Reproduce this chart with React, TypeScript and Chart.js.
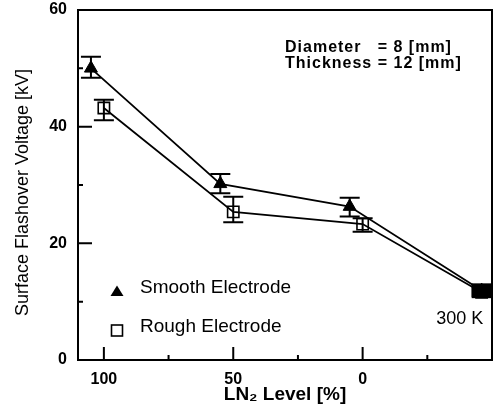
import React, { useEffect, useRef } from 'react';
import { Chart, registerables } from 'chart.js';

Chart.register(...registerables);

// ---- data ----
const smoothX = [105, 55, 5, -46];
const smoothY = [50.0, 30.2, 26.3, 11.9];
const smoothErrLow = [48.4, 28.6, 24.6, 10.8];
const smoothErrHigh = [52.0, 31.9, 27.8, 13.1];

const roughX = [100, 50, 0, -46];
const roughY = [43.2, 25.4, 23.3, 11.6];
const roughErrLow = [41.1, 23.6, 22.0, 10.6];
const roughErrHigh = [44.6, 28.0, 24.3, 13.1];

const solidBox = [false, false, false, true];

const xTicks = [100, 50, 0];
const xMinorTicks = [75, 25, -25];
const yTicks = [0, 20, 40, 60];
const yMinorTicks = [10, 30, 50];

const seriesNames = ['Smooth Electrode', 'Rough Electrode'];
const noteLines = ['Diameter', 'Thickness'];
const noteValues = ['= 8 [mm]', '= 12 [mm]'];
const tempLabel = '300 K';

const FONT = '"Liberation Sans", Arial, Helvetica, sans-serif';

const errLows = [smoothErrLow, roughErrLow];
const errHighs = [smoothErrHigh, roughErrHigh];

const customPlugin = {
  id: 'custom',
  afterDatasetsDraw(chart: any) {
    const ctx = chart.ctx;
    const ys = chart.scales.y;
    ctx.save();
    ctx.strokeStyle = '#000';
    ctx.fillStyle = '#000';
    ctx.lineWidth = 2;
    chart.data.datasets.forEach((ds: any, di: number) => {
      const meta = chart.getDatasetMeta(di);
      meta.data.forEach((pt: any, i: number) => {
        const x = pt.x;
        const yl = ys.getPixelForValue(errLows[di][i]);
        const yh = ys.getPixelForValue(errHighs[di][i]);
        const hw = 10;
        if (solidBox[i]) {
          ctx.fillRect(x - hw, yh, hw * 2, yl - yh);
          return;
        }
        ctx.beginPath();
        ctx.moveTo(x, yl);
        ctx.lineTo(x, yh);
        ctx.moveTo(x - hw, yl);
        ctx.lineTo(x + hw, yl);
        ctx.moveTo(x - hw, yh);
        ctx.lineTo(x + hw, yh);
        ctx.stroke();
      });
    });
    ctx.restore();
  },
  afterDraw(chart: any) {
    const ctx = chart.ctx;
    const { left, right, top, bottom } = chart.chartArea;
    const xs = chart.scales.x;
    const ys = chart.scales.y;
    ctx.save();
    ctx.strokeStyle = '#000';
    ctx.fillStyle = '#000';
    // frame
    ctx.lineWidth = 2;
    ctx.strokeRect(left, top, right - left, bottom - top);
    // ticks (inward)
    ctx.beginPath();
    xTicks.forEach((v) => {
      const px = xs.getPixelForValue(v);
      ctx.moveTo(px, bottom);
      ctx.lineTo(px, bottom - 13);
    });
    xMinorTicks.forEach((v) => {
      const px = xs.getPixelForValue(v);
      ctx.moveTo(px, bottom);
      ctx.lineTo(px, bottom - 5);
    });
    yTicks.forEach((v) => {
      const py = ys.getPixelForValue(v);
      ctx.moveTo(left, py);
      ctx.lineTo(left + 14, py);
    });
    yMinorTicks.forEach((v) => {
      const py = ys.getPixelForValue(v);
      ctx.moveTo(left, py);
      ctx.lineTo(left + 5, py);
    });
    ctx.stroke();

    // annotation
    ctx.font = `bold 16px ${FONT}`;
    (ctx as any).letterSpacing = '1px';
    ctx.textBaseline = 'middle';
    ctx.textAlign = 'left';
    const ax = left + 207;
    const w2 = ctx.measureText(noteLines[1] + ' ').width;
    ctx.fillText(noteLines[0], ax, top + 38);
    ctx.fillText(noteValues[0], ax + w2, top + 38);
    ctx.fillText(noteLines[1], ax, top + 54);
    ctx.fillText(noteValues[1], ax + w2, top + 54);
    (ctx as any).letterSpacing = '0px';

    // legend
    const lx = left + 39;
    const ly1 = top + 281;
    const ly2 = top + 320;
    ctx.beginPath();
    ctx.moveTo(lx, ly1 - 5.5);
    ctx.lineTo(lx + 6.5, ly1 + 5);
    ctx.lineTo(lx - 6.5, ly1 + 5);
    ctx.closePath();
    ctx.fill();
    ctx.lineWidth = 1.6;
    ctx.strokeRect(lx - 5.5, ly2 - 5, 11, 11);
    ctx.font = `19px ${FONT}`;
    ctx.fillText(seriesNames[0], left + 62, top + 278);
    ctx.fillText(seriesNames[1], left + 62, top + 317);

    // 300 K
    ctx.font = `18px ${FONT}`;
    ctx.textAlign = 'center';
    ctx.fillText(tempLabel, xs.getPixelForValue(smoothX[3]) - 22, top + 309);
    ctx.restore();
  },
};

export default function App() {
  const ref = useRef<HTMLCanvasElement>(null);
  useEffect(() => {
    if (!ref.current) return;
    const chart = new Chart(ref.current, {
      type: 'line',
      data: {
        datasets: [
          {
            label: seriesNames[0],
            data: smoothX.map((x, i) => ({ x, y: smoothY[i] })),
            borderColor: '#000',
            borderWidth: 1.8,
            pointStyle: 'triangle',
            pointRadius: 7.5,
            pointBackgroundColor: '#000',
            pointBorderColor: '#000',
            pointBorderWidth: 1,
            tension: 0,
            fill: false,
          },
          {
            label: seriesNames[1],
            data: roughX.map((x, i) => ({ x, y: roughY[i] })),
            borderColor: '#000',
            borderWidth: 1.8,
            pointStyle: 'rect',
            pointRadius: 8,
            pointBackgroundColor: 'rgba(0,0,0,0)',
            pointBorderColor: '#000',
            pointBorderWidth: 1.6,
            tension: 0,
            fill: false,
          },
        ],
      },
      options: {
        responsive: false,
        animation: false,
        devicePixelRatio: 1,
        layout: { autoPadding: false, padding: { top: 10, right: 2, left: 0, bottom: 0 } },
        plugins: { legend: { display: false }, tooltip: { enabled: false } },
        scales: {
          x: {
            type: 'linear',
            min: -50,
            max: 110,
            reverse: true,
            afterBuildTicks: (s: any) => {
              s.ticks = xTicks.map((v) => ({ value: v }));
            },
            afterFit: (s: any) => {
              s.height = 54;
              s.paddingLeft = 0;
              s.paddingRight = 0;
            },
            grid: { display: false, drawTicks: false },
            border: { display: false },
            ticks: {
              color: '#000',
              padding: 10,
              maxRotation: 0,
              autoSkip: false,
              font: { family: FONT, size: 16, weight: 'bold' },
            },
            title: {
              display: true,
              text: 'LN₂ Level [%]',
              color: '#000',
              font: { family: FONT, size: 19, weight: 'bold' },
              padding: { top: 0, bottom: 8 },
            },
          },
          y: {
            type: 'linear',
            min: 0,
            max: 60,
            afterBuildTicks: (s: any) => {
              s.ticks = yTicks.map((v) => ({ value: v }));
            },
            afterFit: (s: any) => {
              s.width = 78;
              s.paddingTop = 0;
              s.paddingBottom = 0;
            },
            grid: { display: false, drawTicks: false },
            border: { display: false },
            ticks: {
              color: '#000',
              padding: 11,
              font: { family: FONT, size: 16, weight: 'bold' },
            },
            title: {
              display: true,
              text: 'Surface Flashover Voltage [kV]   ',
              color: '#000',
              font: { family: FONT, size: 18 },
              padding: { top: 12, bottom: 0 },
            },
          },
        },
      },
      plugins: [customPlugin],
    } as any);
    return () => chart.destroy();
  }, []);
  return (
    <div style={{ position: 'fixed', left: 0, top: 0, width: 494, height: 414, background: '#fff' }}>
      <canvas ref={ref} width={494} height={414} style={{ display: 'block' }} />
    </div>
  );
}
